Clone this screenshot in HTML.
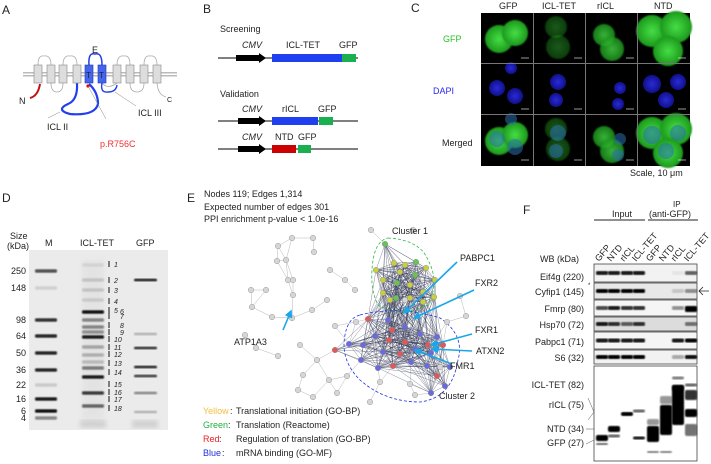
<!DOCTYPE html>
<html><head><meta charset="utf-8">
<style>
html,body{margin:0;padding:0;background:#fff;}
svg{display:block;font-family:"Liberation Sans",Arial,sans-serif;}
text{font-size:9px;fill:#222;}
.pl{font-size:12px;fill:#222;}
</style></head>
<body>
<svg id="fig" width="711" height="464" viewBox="0 0 711 464">
<defs>
<filter id="blur1"><feGaussianBlur stdDeviation="0.7"/></filter>
<filter id="blur3"><feGaussianBlur stdDeviation="2.5"/></filter>
<radialGradient id="cellG" cx="50%" cy="50%" r="50%"><stop offset="0" stop-color="#45de45"/><stop offset="1" stop-color="#1c981c"/></radialGradient>
<radialGradient id="nucB" cx="50%" cy="50%" r="50%"><stop offset="0" stop-color="#2a2ad8"/><stop offset="1" stop-color="#10108a"/></radialGradient>
<marker id="ah" viewBox="0 0 10 10" refX="8" refY="5" markerWidth="5" markerHeight="5" orient="auto"><path d="M0,0 L10,5 L0,10 z" fill="#1aa6e8"/></marker>
</defs>

<!-- Panel A -->
<g>
<text class="pl" x="2" y="14">A</text>
<rect x="23" y="72" width="154" height="1.5" fill="#bbb"/>
<rect x="23" y="75" width="154" height="1.5" fill="#bbb"/>
<g fill="none" stroke="#aaa" stroke-width="0.8">
<path d="M38,65 Q38,55 44,56 Q51,55 51,65"/>
<path d="M51,83 Q51,92 57,92 Q63,92 63,83"/>
<path d="M63,65 Q63,55 70,56 Q77,55 77,65"/>
<path d="M117,65 Q117,55 124,56 Q130,55 130,65"/>
<path d="M130,83 Q130,92 137,92 Q144,92 144,83"/>
<path d="M144,65 Q144,55 150,56 Q157,55 157,65"/>
<path d="M157,83 Q158,95 166,97"/>
<path d="M102,83 Q108,90 117,83"/>
</g>
<path d="M89,65 Q88,52 95,54 Q102,52 102,65" fill="none" stroke="#1f3ff0" stroke-width="1.5"/>
<path d="M77,83 Q78,100 68,104 Q55,110 70,114 Q95,116 98,104 Q98,92 89,84" fill="none" stroke="#1f3ff0" stroke-width="2.2"/>
<path d="M102,83 Q100,93 108,92 Q116,92 117,85" fill="none" stroke="#1f3ff0" stroke-width="1.4"/>
<path d="M30,98 Q38,96 40,84" fill="none" stroke="#c01010" stroke-width="2"/>
<g>
<rect x="34" y="65" width="8" height="18" fill="#ddd" stroke="#888" stroke-width="0.6"/>
<rect x="47" y="65" width="8" height="18" fill="#ddd" stroke="#888" stroke-width="0.6"/>
<rect x="59" y="65" width="8" height="18" fill="#ddd" stroke="#888" stroke-width="0.6"/>
<rect x="73" y="65" width="8" height="18" fill="#ddd" stroke="#888" stroke-width="0.6"/>
<rect x="85" y="65" width="8" height="18" fill="#4466ee" stroke="#2233aa" stroke-width="0.6"/>
<rect x="98" y="65" width="8" height="18" fill="#4466ee" stroke="#2233aa" stroke-width="0.6"/>
<rect x="113" y="65" width="8" height="18" fill="#ddd" stroke="#888" stroke-width="0.6"/>
<rect x="126" y="65" width="8" height="18" fill="#ddd" stroke="#888" stroke-width="0.6"/>
<rect x="140" y="65" width="8" height="18" fill="#ddd" stroke="#888" stroke-width="0.6"/>
<rect x="153" y="65" width="8" height="18" fill="#ddd" stroke="#888" stroke-width="0.6"/>
</g>
<text x="86" y="78" style="font-size:8px">T</text><text x="99" y="78" style="font-size:8px">T</text>
<circle cx="88" cy="86" r="1.6" fill="#e00"/>
<line x1="88" y1="86" x2="106" y2="119" stroke="#888" stroke-width="0.5"/>
<line x1="60" y1="112" x2="48" y2="118" stroke="#888" stroke-width="0.5"/>
<line x1="115" y1="92" x2="136" y2="106" stroke="#888" stroke-width="0.5"/>
<text x="92" y="53">E</text>
<text x="19" y="104">N</text>
<text x="167" y="102" style="font-size:7px">C</text>
<text x="47" y="130">ICL II</text>
<text x="138" y="116">ICL III</text>
<text x="100" y="147" style="fill:#f03030">p.R756C</text>
</g>

<!-- Panel B -->
<g>
<text class="pl" x="203" y="13">B</text>
<text x="220" y="32">Screening</text>
<line x1="218" y1="58" x2="358" y2="58" stroke="#000" stroke-width="1"/>
<path d="M236,55 L259,55 L259,53 L266,58 L259,63 L259,61 L236,61 z" fill="#000"/>
<rect x="272" y="54" width="70" height="8" fill="#1f3ff0"/><rect x="342" y="54" width="14" height="8" fill="#1ab050"/>
<text x="242" y="48" font-style="italic">CMV</text><text x="286" y="48">ICL-TET</text><text x="339" y="48">GFP</text>
<text x="220" y="97">Validation</text>
<line x1="218" y1="121" x2="358" y2="121" stroke="#000"/>
<path d="M238,118 L259,118 L259,116 L266,121 L259,126 L259,124 L238,124 z" fill="#000"/>
<rect x="272" y="117" width="46" height="8" fill="#1f3ff0"/><rect x="319" y="117" width="14" height="8" fill="#1ab050"/>
<text x="242" y="112" font-style="italic">CMV</text><text x="282" y="112">rICL</text><text x="318" y="112">GFP</text>
<line x1="218" y1="149" x2="358" y2="149" stroke="#000"/>
<path d="M238,146 L259,146 L259,144 L266,149 L259,154 L259,152 L238,152 z" fill="#000"/>
<rect x="272" y="145" width="24" height="8" fill="#c00"/><rect x="298" y="145" width="13" height="8" fill="#1ab050"/>
<text x="242" y="140" font-style="italic">CMV</text><text x="275" y="140">NTD</text><text x="298" y="140">GFP</text>
</g>

<!-- Panel C -->
<g>
<text class="pl" x="411" y="12">C</text>
<text x="499" y="9">GFP</text><text x="542" y="9">ICL-TET</text><text x="597" y="9">rICL</text><text x="654" y="9">NTD</text>
<text x="443" y="42" style="fill:#28c028">GFP</text>
<text x="433" y="94" style="fill:#2a2aee">DAPI</text>
<text x="442" y="146">Merged</text>
<rect x="481" y="13" width="209" height="153" fill="#000"/>
<g id="cells"></g>
<g stroke="#777" stroke-width="1">
<line x1="533.5" y1="13" x2="533.5" y2="166"/><line x1="585.5" y1="13" x2="585.5" y2="166"/><line x1="637.5" y1="13" x2="637.5" y2="166"/>
<line x1="481" y1="63.5" x2="690" y2="63.5"/><line x1="481" y1="114.5" x2="690" y2="114.5"/>
</g>
<text x="630" y="176">Scale, 10 μm</text>
</g>

<!-- Panel D -->
<g>
<text class="pl" x="2" y="202">D</text>
<text x="10" y="239">Size</text><text x="7" y="249">(kDa)</text>
<text x="45" y="246">M</text><text x="80" y="246">ICL-TET</text><text x="136" y="246">GFP</text>
<rect x="29" y="250" width="139" height="180" fill="#ebebeb"/>
<g id="gel"></g>
</g>

<!-- Panel E -->
<g>
<text class="pl" x="187" y="202">E</text>
<text x="204" y="197">Nodes 119; Edges 1,314</text>
<text x="204" y="210">Expected number of edges 301</text>
<text x="204" y="222">PPI enrichment p-value &lt; 1.0e-16</text>
<g id="net"></g>
<text x="392" y="234">Cluster 1</text>
<text x="439" y="399">Cluster 2</text>
<text x="460" y="261">PABPC1</text><text x="475" y="286">FXR2</text><text x="475" y="333">FXR1</text><text x="476" y="354">ATXN2</text><text x="450" y="369">FMR1</text>
<text x="234" y="345">ATP1A3</text>
<g>
<text x="203" y="414" style="fill:#f0c040">Yellow</text><text x="230" y="414">:</text><text x="236" y="414">Translational initiation (GO-BP)</text>
<text x="203" y="428" style="fill:#20b040">Green</text><text x="228" y="428">:</text><text x="236" y="428">Translation (Reactome)</text>
<text x="203" y="442" style="fill:#ee2020">Red</text><text x="219" y="442">:</text><text x="236" y="442">Regulation of translation (GO-BP)</text>
<text x="203" y="456" style="fill:#2030e0">Blue</text><text x="222" y="456">:</text><text x="236" y="456">mRNA binding (GO-MF)</text>
</g>
</g>

<!-- Panel F -->
<g>
<text class="pl" x="523" y="214">F</text>
<text x="612" y="217">Input</text><line x1="594" y1="220" x2="645" y2="220" stroke="#222"/>
<text x="673" y="207" style="font-size:8px">IP</text><text x="649" y="217">(anti-GFP)</text><line x1="648" y1="220" x2="698" y2="220" stroke="#222"/>
<g id="lanelabels"></g>
<text x="540" y="262">WB (kDa)</text>
<g id="blots"></g>
<text x="584" y="280" text-anchor="end">Eif4g (220)</text>
<text x="584" y="295" text-anchor="end">Cyfip1 (145)</text>
<text x="584" y="312" text-anchor="end">Fmrp (80)</text>
<text x="584" y="328" text-anchor="end">Hsp70 (72)</text>
<text x="584" y="345" text-anchor="end">Pabpc1 (71)</text>
<text x="584" y="361" text-anchor="end">S6 (32)</text>
<text x="584" y="388" text-anchor="end">ICL-TET (82)</text>
<text x="584" y="408" text-anchor="end">rICL (75)</text>
<text x="584" y="432" text-anchor="end">NTD (34)</text>
<text x="584" y="446" text-anchor="end">GFP (27)</text>
<text x="588" y="287" style="font-size:6px">*</text>
<path d="M699,291 L709,291 M703,287 L699,291 L703,295" stroke="#222" fill="none" stroke-width="0.8"/>
<polyline points="588,398 594,412 588,420" fill="none" stroke="#555" stroke-width="0.5"/>
<line x1="586" y1="429" x2="594" y2="429" stroke="#555" stroke-width="0.5"/>
<line x1="586" y1="444" x2="594" y2="440" stroke="#555" stroke-width="0.5"/>
</g>
</svg>

<script>
const NS='http://www.w3.org/2000/svg';
function mk(tag,attrs,parent){const e=document.createElementNS(NS,tag);for(const k in attrs)e.setAttribute(k,attrs[k]);parent.appendChild(e);return e;}

// ---- Panel C: microscopy cells (col, dx, dy, r) ----
const cellCols=[481,534,586,638];
const cellRows=[13,64,115];
const gfpCells=[[0,18,26,14],[0,34,20,13],[1,22,14,11],[1,24,34,12],[2,18,22,11],[2,26,36,12],[3,14,18,16],[3,38,14,16],[3,30,38,15]];
const gfpAlpha=[1,1,0.4,0.4,0.8,0.8,1,1,1];
const nuclei=[[0,16,24,8],[0,34,32,8],[0,30,4,6],[1,24,18,8],[1,22,36,7],[2,34,24,6],[2,32,40,6],[3,14,20,9],[3,40,18,8],[3,28,36,8]];
const gc=document.getElementById('cells');
for(let row=0;row<3;row++){
  gfpCells.forEach((c,i)=>{ if(row===1)return;
    const e=mk('circle',{cx:cellCols[c[0]]+c[1],cy:cellRows[row]+c[2],r:c[3],fill:'url(#cellG)',opacity:gfpAlpha[i],filter:'url(#blur1)'},gc);
    
    
  });
  nuclei.forEach(n=>{ if(row===0)return;
    const e=mk('circle',{cx:cellCols[n[0]]+n[1],cy:cellRows[row]+n[2],r:n[3],fill:row===1?'url(#nucB)':'#2a6fb0',opacity:row===1?1:0.55},gc);
    
    
  });
  cellCols.forEach(x=>{mk('line',{x1:x+40,y1:cellRows[row]+45,x2:x+48,y2:cellRows[row]+45,stroke:'#fff','stroke-width':0.6},gc);});
}

// ---- Panel D: gel ----
const markerLabels=['250','148','98','64','50','36','22','16','6','4'];
const markerY=[271,288,320,336,353,370,385,399,411,418];
const markerInt=[0.7,0.12,0.85,0.9,0.9,0.9,0.15,0.95,1,0.45];
const tetBands=[[312,1],[320,0.45],[327,0.45],[332,0.4],[337,0.95],[347,0.3],[355,0.25],[362,0.2],[368,0.5],[377,0.95],[393,0.8],[406,0.6],[280,0.15],[290,0.15],[300,0.12],[265,0.08]];
const gfpBands=[[280,0.95],[334,0.25],[348,0.85],[367,0.9],[376,0.8],[393,0.45],[412,0.25]];
const numLabels=['1','2','3','4','5','6','7','8','9','10','11','12','13','14','15','16','17','18'];
const numY=[264,280,290,301,310,311,316,325,332,339,347,354,363,372,384,392,399,408];
const gel=document.getElementById('gel');
markerLabels.forEach((l,i)=>{
  const t=mk('text',{x:26,y:markerY[i]+3,'text-anchor':'end'},gel);t.textContent=l;
  
  
  const b=mk('rect',{x:35,y:markerY[i]-1.8,width:22,height:3.6,rx:1.5,fill:'#111',opacity:markerInt[i],filter:'url(#blur1)'},gel);
  
  
});
mk('rect',{x:82,y:260,width:22,height:160,fill:'#bbb',opacity:0.15,filter:'url(#blur3)'},gel);
tetBands.forEach(b=>{const e=mk('rect',{x:82,y:b[0]-1.7,width:22,height:3.4,rx:1.5,fill:'#111',opacity:b[1],filter:'url(#blur1)'},gel);
  
  });
gfpBands.forEach(b=>{const e=mk('rect',{x:134,y:b[0]-1.3,width:23,height:2.6,rx:1.5,fill:'#111',opacity:b[1],filter:'url(#blur1)'},gel);
  
  });
mk('rect',{x:80,y:420,width:26,height:8,fill:'#aaa',opacity:0.4,filter:'url(#blur3)'},gel);
mk('rect',{x:132,y:420,width:26,height:8,fill:'#aaa',opacity:0.4,filter:'url(#blur3)'},gel);
numLabels.forEach((l,i)=>{
  const t=mk('text',{x:(i===5||i===6||i===7||i===8)?120:114,y:numY[i]+3,'font-style':'italic',style:'font-size:7px'},gel);t.textContent=l;
  
  
  mk('line',{x1:109,y1:numY[i]-3,x2:109,y2:numY[i]+3,stroke:'#111','stroke-width':1},gel);
});

// ---- Panel E: network ----
const nodeX=[371,413,314,278,277,286,288,266,251,293,330,345,355,327,293,312,292,272,252,245,256,278,300,317,329,303,298,313,337,347,370,380,410,415,440,466,447,460,335,356,420,405,292,313,
 385,394,405,416,426,435,383,397,410,423,383,396,410,423,434,400,415,376,390,
 368,388,392,405,375,389,405,420,383,400,415,428,437,443,431,411,393,378,363,349,361,427,437,445,431,450,335];
const nodeY=[230,230,252,246,261,260,280,290,290,280,270,280,290,300,295,310,318,317,307,335,348,356,345,360,380,375,390,397,393,376,402,382,384,395,367,316,322,296,326,322,315,300,238,238,
 244,263,265,262,268,280,280,283,285,292,293,298,298,302,297,272,275,270,300,
 319,320,330,327,336,340,342,334,352,354,349,345,337,345,353,362,366,368,345,344,360,366,376,386,393,367,350];
const nodeColor=['g','g','g','g','g','g','g','g','g','g','g','g','g','g','g','g','g','g','g','g','g','g','g','g','g','g','g','g','g','g','g','g','g','g','g','g','g','g','g','g','g','g','g','g',
 'G','Y','Y','G','Y','Y','Y','G','Y','Y','Y','G','Y','Y','Y','Y','G','Y','Y',
 'R','B','R','B','B','R','R','B','B','R','B','R','B','R','B','B','R','B','B','B','B','B','R','B','B','B','R'];
const colMap={g:'#d6d6d6',G:'#66c455',Y:'#c8d040',R:'#e25858',B:'#6a6ae0'};
const net=document.getElementById('net');
const eg=mk('g',{stroke:'#2e3350','stroke-width':0.4},net);
for(let i=0;i<nodeX.length;i++)for(let j=i+1;j<nodeX.length;j++){
  const d=Math.hypot(nodeX[i]-nodeX[j],nodeY[i]-nodeY[j]);
  const ci=nodeColor[i]!=='g',cj=nodeColor[j]!=='g';
  if(ci&&cj&&d<60) mk('line',{x1:nodeX[i],y1:nodeY[i],x2:nodeX[j],y2:nodeY[j],opacity:0.7},eg);
  else if(d<24) mk('line',{x1:nodeX[i],y1:nodeY[i],x2:nodeX[j],y2:nodeY[j],opacity:0.45},eg);
}
mk('path',{d:'M388,238 Q420,240 428,260 Q440,282 428,305 Q400,318 378,305 Q368,285 374,255 Q378,240 388,238',fill:'none',stroke:'#2cb84a','stroke-dasharray':'3,2','stroke-width':0.8},net);
mk('path',{d:'M360,315 Q400,305 440,318 Q465,335 458,360 Q452,398 420,402 Q385,402 360,380 Q340,360 345,335 Q348,318 360,315',fill:'none',stroke:'#2030e0','stroke-dasharray':'3,2','stroke-width':0.8},net);
nodeX.forEach((x,i)=>{
  const c=mk('circle',{cx:x,cy:nodeY[i],r:2.8,fill:colMap[nodeColor[i]],stroke:'#888','stroke-width':0.4},net);
  
  
});
const arrows=[[457,262,404,313],[474,290,414,318],[472,334,431,345],[472,351,432,349],[452,364,415,350],[283,330,291,311]];
arrows.forEach(a=>{const l=mk('line',{x1:a[0],y1:a[1],x2:a[2],y2:a[3],stroke:'#1aa6e8','stroke-width':1.6,'marker-end':'url(#ah)'},net);
  
  });

// ---- Panel F: western blots ----
const laneNames=['GFP','NTD','rICL','ICL-TET','GFP','NTD','rICL','ICL-TET'];
const laneX=[602,614,627,639,653,666,678,691];
const ll=document.getElementById('lanelabels');
laneNames.forEach((n,i)=>{const t=mk('text',{x:laneX[i]-3,y:262,transform:`rotate(-50 ${laneX[i]-3} 262)`},ll);t.textContent=n;
  
  });
const blotTop=[264,283,300,317,332,350];
const blotH=[18,16,16,14,17,14];
const blotBg=['#f2f2f2','#e8e8e8','#f5f5f5','#dcdcdc','#f5f5f5','#f2f2f2'];
const blotInt=[[0.9,0.9,0.9,0.9,0,0,0.05,0.6],[1,1,1,1,0,0,0.15,0.4],[0.7,0.9,0.8,0.8,0,0,0.4,1],[0.9,0.8,0.6,0.8,0,0,0,0.5],[0.9,0.9,0.9,0.9,0,0,0.9,1],[1,1,1,1,0,0,0.3,0.95]];
const blots=document.getElementById('blots');
blotTop.forEach((y,r)=>{
  const b=mk('rect',{x:594,y:y,width:103,height:blotH[r],fill:blotBg[r],stroke:'#444','stroke-width':0.8},blots);
  
  
  blotInt[r].forEach((v,i)=>{ if(v>0){const e=mk('rect',{x:laneX[i]-6,y:y+blotH[r]/2-2,width:12,height:r===2&&i===7?6:4,rx:1.5,fill:'#000',opacity:v,filter:'url(#blur1)'},blots);
    
    }});
});
const big=mk('rect',{x:594,y:366,width:103,height:95,fill:'#fff',stroke:'#444','stroke-width':0.8},blots);


const bigBands=[[0,438,6,1],[0,444,2,0.6],[1,429,6,1],[1,436,3,0.6],[2,414,4,1],[3,411,3,0.6],[3,438,3,0.9],[4,434,16,1],[4,422,6,0.4],[4,452,2,0.5],[5,420,30,1],[5,400,8,0.4],[5,452,2,0.5],[6,405,40,1],[6,388,6,0.6],[6,378,3,0.5],[7,413,8,1],[7,395,10,0.8],[7,430,12,0.55],[7,385,3,0.6]];
bigBands.forEach(b=>{const e=mk('rect',{x:laneX[b[0]]-6,y:b[1]-b[2]/2,width:12,height:b[2],rx:2,fill:'#000',opacity:b[3],filter:'url(#blur1)'},blots);
  
  });
</script>
</body></html>
